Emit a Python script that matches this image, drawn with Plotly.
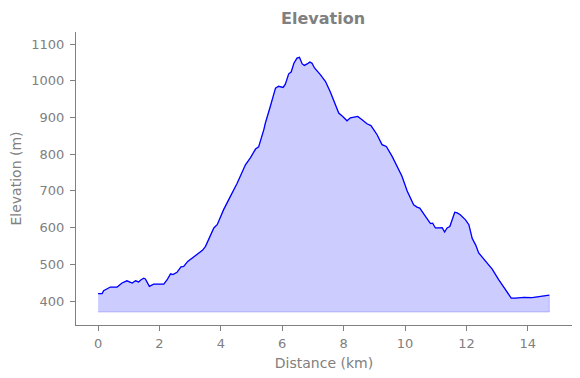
import plotly.graph_objects as go

distance_km = [0.00, 0.13, 0.18, 0.24, 0.40, 0.62, 0.78, 0.94, 1.11, 1.22, 1.32, 1.40, 1.49, 1.54,
               1.60, 1.67, 1.81, 1.98, 2.14, 2.25, 2.36, 2.44, 2.57, 2.70, 2.79, 2.92, 3.06, 3.22,
               3.40, 3.50, 3.77, 3.88, 4.09, 4.31, 4.53, 4.80, 4.96, 5.13, 5.23, 5.40, 5.45, 5.61,
               5.78, 5.88, 6.03, 6.10, 6.21, 6.29, 6.38, 6.48, 6.56, 6.65, 6.72, 6.81, 6.90, 6.97,
               7.05, 7.24, 7.41, 7.57, 7.73, 7.84, 7.98, 8.11, 8.22, 8.33, 8.46, 8.60, 8.76, 8.89,
               9.09, 9.25, 9.39, 9.58, 9.74, 9.90, 10.07, 10.28, 10.39, 10.48, 10.66, 10.83, 10.90,
               10.99, 11.10, 11.21, 11.29, 11.37, 11.46, 11.53, 11.62, 11.70, 11.80, 11.97, 12.08,
               12.19, 12.30, 12.40, 12.57, 12.84, 13.05, 13.27, 13.46, 13.60, 13.87, 14.14, 14.41,
               14.70]
elevation_m = [420, 420, 428, 431, 438, 438, 449, 455, 449, 455, 452, 458, 462, 460,
               449, 440, 446, 445, 446, 458, 474, 472, 478, 493, 494, 508, 517, 526,
               538, 549, 599, 608, 649, 685, 721, 771, 790, 814, 820, 867, 885, 930,
               980, 985, 982, 991, 1019, 1024, 1048, 1062, 1064, 1046, 1042, 1046, 1051, 1048,
               1035, 1017, 998, 969, 935, 912, 902, 891, 899, 901, 903, 894, 883, 878,
               853, 826, 821, 794, 767, 740, 700, 662, 656, 653, 631, 611, 612,
               599, 599, 600, 588, 599, 603, 621, 642, 640, 635, 621, 608,
               570, 553, 531, 513, 487, 458, 433, 408, 408, 410, 409, 413,
               416]
fill_base_m = 370
x_ticks = [0, 2, 4, 6, 8, 10, 12, 14]
y_ticks = [400, 500, 600, 700, 800, 900, 1000, 1100]

grey = "#808080"
font = "DejaVu Sans"

fig = go.Figure()
fig.add_trace(go.Scatter(
    x=distance_km + [distance_km[-1], distance_km[0]],
    y=elevation_m + [fill_base_m, fill_base_m],
    fill="toself", fillcolor="rgba(0,0,255,0.2)",
    line=dict(color="rgba(0,0,255,0.2)", width=1),
    mode="lines", hoverinfo="skip", showlegend=False))
fig.add_trace(go.Scatter(
    x=distance_km, y=elevation_m, mode="lines",
    line=dict(color="#0000ff", width=1.3), showlegend=False))

axis_common = dict(showgrid=False, zeroline=False, showline=True, linecolor=grey, linewidth=1,
                   ticks="outside", ticklen=5, tickwidth=1, tickcolor=grey, automargin=False,
                   tickfont=dict(family=font, size=13, color=grey))
fig.update_layout(
    width=580, height=378,
    margin=dict(l=76, r=8, t=32, b=53),
    paper_bgcolor="white", plot_bgcolor="white",
    title=dict(text="<b>Elevation</b>", x=0.557, xanchor="center", y=0.952, yanchor="middle",
               font=dict(family=font, size=16, color=grey)),
    xaxis=dict(range=[-0.72, 15.44], tickvals=x_ticks, ticklabelstandoff=1,
               title=dict(text="Distance (km)", standoff=8, font=dict(family=font, size=14, color=grey)),
               **axis_common),
    yaxis=dict(range=[334.6, 1133], tickvals=y_ticks, ticklabelstandoff=3,
               title=dict(text="Elevation (m)", standoff=6, font=dict(family=font, size=14, color=grey)),
               **axis_common),
)
fig.write_html("out.html", config={"displayModeBar": False},
               post_script="document.body.style.margin='0';")
